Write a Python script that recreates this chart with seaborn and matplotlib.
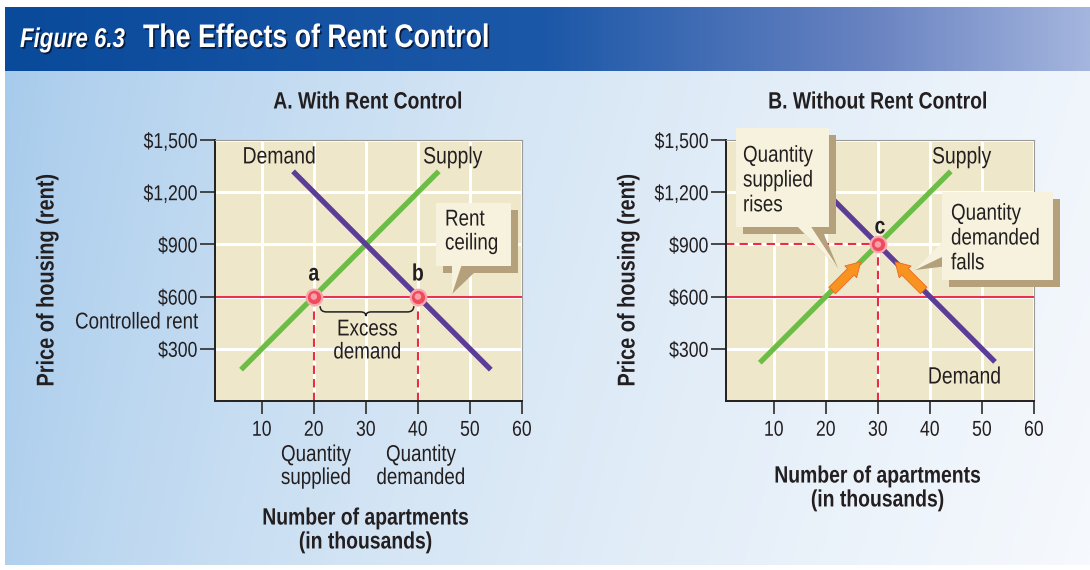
import numpy as np
import pandas as pd
import seaborn as sns
import matplotlib.pyplot as plt
import matplotlib.patheffects as pe
from matplotlib.text import Text
from matplotlib.transforms import Affine2D
from matplotlib.colors import LinearSegmentedColormap
from matplotlib.patches import Polygon, Rectangle, PathPatch
from matplotlib.path import Path

# ---- data ----
qty_ticks = [10, 20, 30, 40, 50, 60]
price_ticks = [300, 600, 900, 1200, 1500]
price_labels = ["$300", "$600", "$900", "$1,200", "$1,500"]
controlled_rent = 600

supply_a = pd.DataFrame({"qty": [6, 44], "price": [180, 1320]})
demand_a = pd.DataFrame({"qty": [16, 54], "price": [1320, 180]})
supply_b = pd.DataFrame({"qty": [7.3, 44], "price": [220, 1320]})
demand_b = pd.DataFrame({"qty": [16, 52.5], "price": [1320, 225]})

ceiling_pts = pd.DataFrame({"qty": [20, 40], "price": [600, 600], "label": ["a", "b"]})
equilibrium = pd.DataFrame({"qty": [30], "price": [900], "label": ["c"]})

# orange arrows in panel B: tail qty, tail price, head qty, head price
move_supply = [21.2, 635, 26.7, 800]
move_demand = [38.8, 635, 33.3, 800]

# ---- style ----
sns.set_theme(style="white")
plt.rcParams["font.family"] = ["Liberation Sans", "DejaVu Sans"]

INK = "#231f20"
GREEN = "#6cbd45"
PURPLE = "#5b3c97"
RED = "#ee2a4a"
BEIGE = "#efe7c9"
CREAM = "#f6f2de"
TAN = "#b4a07a"
ORANGE = "#f7931e"


class Squeeze(pe.AbstractPathEffect):
    """Narrow the glyphs horizontally (no condensed font is installed)."""

    def __init__(self, sx=0.82, anchor="center"):
        super().__init__()
        self.sx = sx
        self.anchor = anchor

    def draw_path(self, renderer, gc, tpath, affine, rgbFace=None):
        v = tpath.vertices
        x0 = 0.0
        if len(v):
            if self.anchor == "center":
                x0 = (v[:, 0].min() + v[:, 0].max()) / 2
            elif self.anchor == "right":
                x0 = v[:, 0].max()
        t = Affine2D().translate(-x0, 0).scale(self.sx, 1).translate(x0, 0) + affine
        renderer.draw_path(gc, tpath, t, rgbFace)


fig = plt.figure(figsize=(10.9, 5.7), dpi=100)
fig.patch.set_facecolor("white")

# background + header band (pixel coordinates)
bg = fig.add_axes([0, 0, 1, 1], zorder=0)
X, Y = np.meshgrid(np.linspace(0, 1, 400), np.linspace(0, 1, 200))
body_cmap = LinearSegmentedColormap.from_list("body", ["#a7cbec", "#d6e6f5", "#f6f9fd"])
bg.imshow(np.clip(0.9 * X ** 0.8 + 0.1 * Y, 0, 1), cmap=body_cmap, vmin=0, vmax=1,
          extent=(5, 1090, 565, 71), aspect="auto", interpolation="bilinear")
head_cmap = LinearSegmentedColormap.from_list(
    "head", [(0, "#0a4a9b"), (0.5, "#1c58a8"), (0.8, "#6983c1"), (1, "#a4b5de")])
bg.imshow(X[:2], cmap=head_cmap, vmin=0, vmax=1,
          extent=(5, 1090, 71, 7), aspect="auto", interpolation="bilinear")
bg.set_xlim(0, 1090)
bg.set_ylim(570, 0)
bg.axis("off")

for dx, col in ((1.6, "#071a3c"), (0, "white")):
    bg.text(20 + dx, 47 + dx, "Figure 6.3", color=col, fontsize=19.5, weight="bold",
            style="italic", va="baseline")
    bg.text(143 + dx, 47 + dx, "The Effects of Rent Control", color=col, fontsize=23.5,
            weight="bold", va="baseline")


def make_panel(rect, xmin):
    ax = fig.add_axes(rect, zorder=1)
    ax.set_facecolor(BEIGE)
    ax.set_xlim(xmin, 60)
    ax.set_ylim(0, 1500)
    ax.set_xticks(qty_ticks)
    ax.set_yticks(price_ticks)
    ax.set_yticklabels(price_labels)
    ax.grid(True, color="white", lw=2.2)
    ax.set_axisbelow(True)
    for s in ["left", "bottom"]:
        ax.spines[s].set(color=INK, lw=1.4)
    for s in ["top", "right"]:
        ax.spines[s].set(color="#9a9a9a", lw=0.8)
    ax.tick_params(axis="x", bottom=True, direction="out", length=9.5, width=1.3,
                   color="#3a3a3a", labelsize=15.5, labelcolor=INK, pad=4)
    ax.tick_params(axis="y", left=True, direction="out", length=11, width=1.3,
                   color="#3a3a3a", labelsize=15.5, labelcolor=INK, pad=1.5)
    ax.axhline(controlled_rent, color=RED, lw=1.4, zorder=2)
    return ax


def draw_curves(ax, supply, demand):
    sns.lineplot(data=supply, x="qty", y="price", ax=ax, color=GREEN, lw=3.8,
                 solid_capstyle="butt", zorder=3)
    sns.lineplot(data=demand, x="qty", y="price", ax=ax, color=PURPLE, lw=3.8,
                 solid_capstyle="butt", zorder=3)
    ax.set_xlabel("")
    ax.set_ylabel("")


def draw_points(ax, pts):
    sns.scatterplot(data=pts, x="qty", y="price", ax=ax, s=125, color="#ef4b5c",
                    edgecolor="#f7a7ae", linewidth=1.6, zorder=6, clip_on=False)
    sns.scatterplot(data=pts, x="qty", y="price", ax=ax, s=22, color="#f7a0a8",
                    edgecolor="none", zorder=7)
    ax.set_xlabel("")
    ax.set_ylabel("")


# ---- Panel A ----
axA = make_panel([215 / 1090, 169 / 570, 307 / 1090, 261 / 570], 1)
draw_curves(axA, supply_a, demand_a)
axA.vlines(ceiling_pts["qty"], 0, ceiling_pts["price"], colors=RED, lw=1.5,
           linestyles=[(0, (4, 2.5))], zorder=2)
draw_points(axA, ceiling_pts)
for _, r in ceiling_pts.iterrows():
    axA.text(r["qty"], r["price"] + 130, r["label"], ha="center", va="center",
             fontsize=17, weight="bold", color=INK)
axA.text(6.3, 1400, "Demand", fontsize=17, color=INK, va="center")
axA.text(41, 1400, "Supply", fontsize=17, color=INK, va="center")

# brace under the controlled-rent line
mid = (ceiling_pts["qty"].iloc[0] + ceiling_pts["qty"].iloc[1]) / 2
lo, hi = ceiling_pts["qty"].iloc[0] + 1.2, ceiling_pts["qty"].iloc[1] - 0.8
verts = [(lo, 545), (lo, 512), (lo + 1.2, 512), (mid - 1.0, 512), (mid, 512), (mid, 488),
         (mid, 512), (mid + 1.0, 512), (hi - 1.2, 512), (hi, 512), (hi, 545)]
codes = [Path.MOVETO, Path.CURVE3, Path.CURVE3, Path.LINETO, Path.CURVE3, Path.CURVE3,
         Path.CURVE3, Path.CURVE3, Path.LINETO, Path.CURVE3, Path.CURVE3]
axA.add_patch(PathPatch(Path(verts, codes), fc="none", ec=INK, lw=1.1, zorder=4))
axA.text(mid + 0.3, 348, "Excess\ndemand", ha="center", va="center", fontsize=16.5,
         color=INK, linespacing=1.0)

# ---- Panel B ----
axB = make_panel([726 / 1090, 169 / 570, 308 / 1090, 261 / 570], 0.8)
draw_curves(axB, supply_b, demand_b)
eq_q, eq_p = equilibrium["qty"].iloc[0], equilibrium["price"].iloc[0]
axB.hlines(eq_p, 0.8, eq_q, colors=RED, lw=1.5, linestyles=[(0, (4, 2.5))], zorder=2)
axB.vlines(eq_q, 0, eq_p, colors=RED, lw=1.5, linestyles=[(0, (4, 2.5))], zorder=2)
for mv in (move_supply, move_demand):
    axB.annotate("", xy=(mv[2], mv[3]), xytext=(mv[0], mv[1]),
                 arrowprops=dict(arrowstyle="simple,head_length=0.85,head_width=1.0,tail_width=0.55",
                                 fc=ORANGE, ec="#f26522", lw=0.6, shrinkA=0, shrinkB=0,
                                 mutation_scale=12),
                 zorder=5)
draw_points(axB, equilibrium)
axB.text(eq_q + 0.4, eq_p + 100, "c", ha="center", va="center", fontsize=17,
         weight="bold", color=INK)
axB.text(40.4, 1400, "Supply", fontsize=17, color=INK, va="center")
axB.text(39.6, 135, "Demand", fontsize=17, color=INK, va="center")

# ---- overlay: titles, labels, callouts (pixel coordinates) ----
over = fig.add_axes([0, 0, 1, 1], zorder=3)
over.set_xlim(0, 1090)
over.set_ylim(570, 0)
over.axis("off")

over.text(368, 102, "A. With Rent Control", ha="center", va="center", fontsize=17,
          weight="bold", color=INK)
over.text(878, 102, "B. Without Rent Control", ha="center", va="center", fontsize=17,
          weight="bold", color=INK)
for x in (47, 628):
    over.text(x, 280, "Price of housing (rent)", rotation=90, ha="center", va="center",
              fontsize=17.5, weight="bold", color=INK)
over.text(198, 322, "Controlled rent", ha="right", va="center", fontsize=16.5, color=INK)
over.text(316, 466, "Quantity\nsupplied", ha="center", va="center", fontsize=16.5,
          color=INK, linespacing=1.0)
over.text(421, 466, "Quantity\ndemanded", ha="center", va="center", fontsize=16.5,
          color=INK, linespacing=1.0)
over.text(366, 530, "Number of apartments\n(in thousands)", ha="center", va="center",
          fontsize=17, weight="bold", color=INK, linespacing=1.05)
over.text(878, 488, "Number of apartments\n(in thousands)", ha="center", va="center",
          fontsize=17, weight="bold", color=INK, linespacing=1.05)


def callout(box, ptr, ptr_shadow, off=(7, 7)):
    x0, y0, x1, y1 = box
    over.add_patch(Rectangle((x0 + off[0], y0 + off[1]), x1 - x0, y1 - y0, fc=TAN, ec="none"))
    over.add_patch(Polygon(ptr_shadow, closed=True, fc=TAN, ec="none"))
    over.add_patch(Rectangle((x0, y0), x1 - x0, y1 - y0, fc=CREAM, ec="none"))
    over.add_patch(Polygon(ptr, closed=True, fc=CREAM, ec="none"))


callout((436, 203, 511, 266),
        [(452, 264), (462, 264), (452, 294)],
        [(458, 270), (477, 270), (452, 294)])
over.text(445, 231, "Rent\nceiling", ha="left", va="center", fontsize=16.5, color=INK,
          linespacing=1.05)

callout((736, 128, 829, 227),
        [(796, 225), (810, 225), (838, 268)],
        [(803, 232), (823, 232), (838, 268)])
over.text(743, 180, "Quantity\nsupplied\nrises", ha="left", va="center", fontsize=16.5,
          color=INK, linespacing=1.1)

callout((942, 192, 1053, 280),
        [(944, 240), (944, 256), (915, 270)],
        [(948, 250), (948, 266), (915, 270)])
over.text(951, 238, "Quantity\ndemanded\nfalls", ha="left", va="center", fontsize=16.5,
          color=INK, linespacing=1.1)

# narrow every text to mimic the condensed typeface of the original
for t in fig.findobj(Text):
    ha = t.get_horizontalalignment()
    t.set_path_effects([Squeeze(0.82, "right" if ha == "right" else
                                "left" if ha == "left" else "center")])

fig.savefig("out.png", dpi=100)
